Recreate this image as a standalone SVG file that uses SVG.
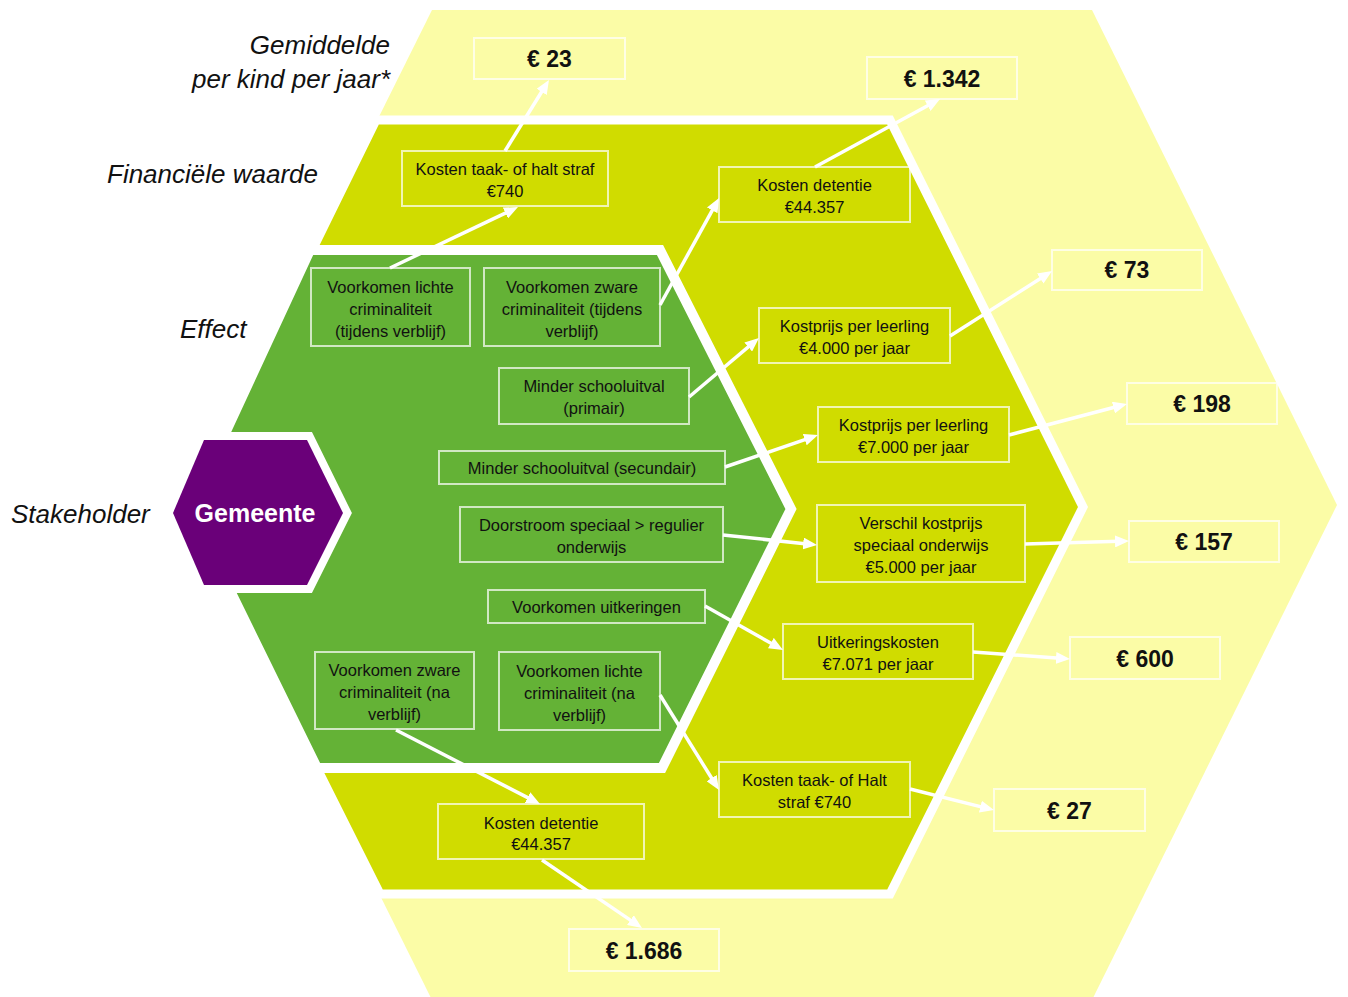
<svg xmlns="http://www.w3.org/2000/svg" width="1348" height="997" viewBox="0 0 1348 997">
<defs>
<style>
.lbl{font-family:"Liberation Sans",Arial,sans-serif;font-style:italic;font-size:26px;fill:#111}
.bt{font-family:"Liberation Sans",Arial,sans-serif;font-size:16.5px;fill:#111;text-anchor:middle}
.val{font-family:"Liberation Sans",Arial,sans-serif;font-size:23px;font-weight:bold;fill:#111;text-anchor:middle}
.box{fill:none;stroke:#ffffff;stroke-opacity:0.7;stroke-width:2}
.con{fill:none;stroke:#ffffff;stroke-width:3.5;marker-end:url(#ah)}
</style>
<marker id="ah" markerUnits="userSpaceOnUse" markerWidth="14" markerHeight="12" refX="4" refY="6" orient="auto">
<path d="M0,0 L14,6 L0,12 z" fill="#ffffff"/>
</marker>
</defs>
<rect width="1348" height="997" fill="#ffffff"/>
<g id="layers">
<polygon id="outer" points="432,10 1092,10 1337,505 1092,1000 432,1000 186,505" fill="#FBFCA6"/>
<polygon id="middle" points="376,120 890,120 1083,507 890,894 380,894 186,507" fill="#D0DC00" stroke="#ffffff" stroke-width="9" stroke-linejoin="miter"/>
<polygon id="inner" points="310,250 660,250 791,509 662,768 317,768 190,509" fill="#64B236" stroke="#ffffff" stroke-width="10"/>
</g>
<g id="labels">
<text class="lbl" x="390" y="54" text-anchor="end">Gemiddelde</text>
<text class="lbl" x="390" y="88" text-anchor="end">per kind per jaar*</text>
<text class="lbl" x="107" y="183">Financiële waarde</text>
<text class="lbl" x="180" y="338">Effect</text>
<text class="lbl" x="11" y="523">Stakeholder</text>
</g>
<g id="gemeente">
<polygon points="173,513 204,440 307,440 343,513 307,585 204,585" fill="#ffffff" stroke="#ffffff" stroke-width="16" stroke-linejoin="miter"/>
<polygon points="173,513 204,440 307,440 343,513 307,585 204,585" fill="#6A0079"/>
<text x="255" y="522" font-family="Liberation Sans, Arial, sans-serif" font-size="25" font-weight="bold" fill="#ffffff" text-anchor="middle">Gemeente</text>
</g>
<g id="connectors">
<path class="con" d="M390,268 L509,211.3"/>
<path class="con" d="M505,151 L543.7,88.5"/>
<path class="con" d="M660,305 L714.2,206.8"/>
<path class="con" d="M815,167 L931.2,103.8"/>
<path class="con" d="M689,397 L751.3,344.4"/>
<path class="con" d="M950,336 L1043.6,276.4"/>
<path class="con" d="M725,467 L808.5,438.3"/>
<path class="con" d="M1009,435 L1117.3,406.5"/>
<path class="con" d="M723,535 L807.1,543.9"/>
<path class="con" d="M1025,544 L1119,541.3"/>
<path class="con" d="M705,606 L774.3,645.1"/>
<path class="con" d="M973,652 L1060,658.3"/>
<path class="con" d="M660,695 L713.7,781.5"/>
<path class="con" d="M910,789 L984.3,807.6"/>
<path class="con" d="M396,730 L531.1,799.4"/>
<path class="con" d="M542,860 L633.7,922.4"/>
</g>
<g id="n-v23"><rect class="box" x="474" y="38" width="151" height="41"/><text class="val" x="549.5" y="67">€ 23</text></g>
<g id="n-v1342"><rect class="box" x="867" y="57" width="150" height="42"/><text class="val" x="942" y="87">€ 1.342</text></g>
<g id="n-taak1"><rect class="box" x="402" y="151" width="206" height="55"/><text class="bt" x="505" y="175">Kosten taak- of halt straf</text><text class="bt" x="505" y="197">€740</text></g>
<g id="n-det1"><rect class="box" x="719" y="167" width="191" height="55"/><text class="bt" x="814.5" y="191">Kosten detentie</text><text class="bt" x="814.5" y="213">€44.357</text></g>
<g id="n-licht1"><rect class="box" x="311" y="268" width="159" height="78"/><text class="bt" x="390.5" y="293">Voorkomen lichte</text><text class="bt" x="390.5" y="315">criminaliteit</text><text class="bt" x="390.5" y="337">(tijdens verblijf)</text></g>
<g id="n-zwaar1"><rect class="box" x="484" y="268" width="176" height="78"/><text class="bt" x="572" y="293">Voorkomen zware</text><text class="bt" x="572" y="315">criminaliteit (tijdens</text><text class="bt" x="572" y="337">verblijf)</text></g>
<g id="n-prim"><rect class="box" x="499" y="368" width="190" height="56"/><text class="bt" x="594" y="392">Minder schooluitval</text><text class="bt" x="594" y="414">(primair)</text></g>
<g id="n-kp4"><rect class="box" x="759" y="308" width="191" height="55"/><text class="bt" x="854.5" y="332">Kostprijs per leerling</text><text class="bt" x="854.5" y="354">€4.000 per jaar</text></g>
<g id="n-v73"><rect class="box" x="1052" y="250" width="150" height="40"/><text class="val" x="1127" y="278">€ 73</text></g>
<g id="n-v198"><rect class="box" x="1127" y="383" width="150" height="41"/><text class="val" x="1202" y="412">€ 198</text></g>
<g id="n-kp7"><rect class="box" x="818" y="407" width="191" height="55"/><text class="bt" x="913.5" y="431">Kostprijs per leerling</text><text class="bt" x="913.5" y="453">€7.000 per jaar</text></g>
<g id="n-sec"><rect class="box" x="439" y="451" width="286" height="33"/><text class="bt" x="582" y="474">Minder schooluitval (secundair)</text></g>
<g id="n-door"><rect class="box" x="460" y="507" width="263" height="55"/><text class="bt" x="591.5" y="531">Doorstroom speciaal &gt; regulier</text><text class="bt" x="591.5" y="553">onderwijs</text></g>
<g id="n-versch"><rect class="box" x="817" y="505" width="208" height="77"/><text class="bt" x="921" y="529">Verschil kostprijs</text><text class="bt" x="921" y="551">speciaal onderwijs</text><text class="bt" x="921" y="573">€5.000 per jaar</text></g>
<g id="n-v157"><rect class="box" x="1129" y="521" width="150" height="41"/><text class="val" x="1204" y="550">€ 157</text></g>
<g id="n-uitk"><rect class="box" x="488" y="590" width="217" height="33"/><text class="bt" x="596.5" y="613">Voorkomen uitkeringen</text></g>
<g id="n-uitkk"><rect class="box" x="783" y="624" width="190" height="55"/><text class="bt" x="878" y="648">Uitkeringskosten</text><text class="bt" x="878" y="670">€7.071 per jaar</text></g>
<g id="n-v600"><rect class="box" x="1070" y="637" width="150" height="42"/><text class="val" x="1145" y="667">€ 600</text></g>
<g id="n-zwaar2"><rect class="box" x="315" y="652" width="159" height="77"/><text class="bt" x="394.5" y="676">Voorkomen zware</text><text class="bt" x="394.5" y="698">criminaliteit (na</text><text class="bt" x="394.5" y="720">verblijf)</text></g>
<g id="n-licht2"><rect class="box" x="499" y="652" width="161" height="78"/><text class="bt" x="579.5" y="677">Voorkomen lichte</text><text class="bt" x="579.5" y="699">criminaliteit (na</text><text class="bt" x="579.5" y="721">verblijf)</text></g>
<g id="n-taak2"><rect class="box" x="719" y="762" width="191" height="55"/><text class="bt" x="814.5" y="786">Kosten taak- of Halt</text><text class="bt" x="814.5" y="808">straf €740</text></g>
<g id="n-v27"><rect class="box" x="994" y="789" width="151" height="42"/><text class="val" x="1069.5" y="819">€ 27</text></g>
<g id="n-det2"><rect class="box" x="438" y="804" width="206" height="55"/><text class="bt" x="541" y="829">Kosten detentie</text><text class="bt" x="541" y="850">€44.357</text></g>
<g id="n-v1686"><rect class="box" x="569" y="929" width="150" height="42"/><text class="val" x="644" y="959">€ 1.686</text></g>
</svg>
